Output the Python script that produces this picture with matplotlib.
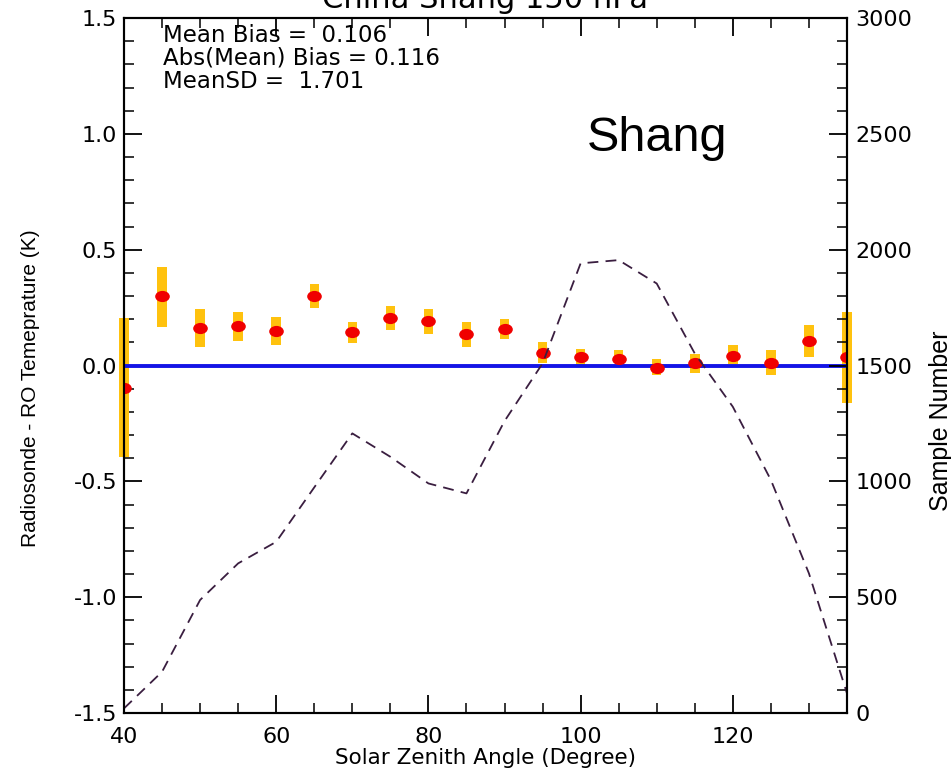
import numpy as np
import matplotlib
matplotlib.use("Agg")
import matplotlib.pyplot as plt
import matplotlib.path as mpath
from matplotlib.transforms import Affine2D

# Data
sza = [40, 45, 50, 55, 60, 65, 70, 75, 80, 85, 90, 95, 100, 105, 110, 115, 120, 125, 130, 135]
bias = [-0.095, 0.298, 0.161, 0.171, 0.150, 0.301, 0.144, 0.204, 0.190, 0.135,
        0.157, 0.056, 0.035, 0.030, -0.009, 0.009, 0.042, 0.013, 0.107, 0.038]
bar_top = [0.207, 0.426, 0.242, 0.233, 0.210, 0.351, 0.189, 0.256, 0.243, 0.189,
           0.200, 0.100, 0.070, 0.066, 0.027, 0.049, 0.088, 0.066, 0.176, 0.233]
bar_bot = [-0.397, 0.167, 0.081, 0.107, 0.089, 0.250, 0.099, 0.152, 0.135, 0.081,
           0.114, 0.013, 0.004, 0.010, -0.043, -0.034, 0.006, -0.042, 0.038, -0.160]
samples = [20, 178, 488, 646, 739, 974, 1207, 1106, 991, 948,
           1260, 1509, 1941, 1955, 1854, 1552, 1322, 1006, 603, 85]

stats_text = "Mean Bias =  0.106\nAbs(Mean) Bias = 0.116\nMeanSD =  1.701"

wide = ['DejaVu Sans']
plain = ['Liberation Sans', 'DejaVu Sans']
plt.rcParams['font.family'] = wide

fig = plt.figure(figsize=(9.51, 7.73), dpi=100)
ax = fig.add_axes([0.1304, 0.0776, 0.7602, 0.8991])
ax2 = ax.twinx()

# error bars as thick yellow blocks
ax.bar(sza, np.array(bar_top) - np.array(bar_bot), bottom=bar_bot, width=1.25,
       color='#FFC20E', zorder=2, clip_on=False)
ax.axhline(0, color='#1414E6', lw=2.8, zorder=3)
ell = mpath.Path.unit_circle().transformed(Affine2D().scale(1.35, 1.0))
ax.plot(sza, bias, ls='none', marker=ell, ms=9.5, color='#F00000', mec='#F00000', zorder=4)

ax2.plot(sza, samples, color='#3A1E40', lw=1.3, dashes=(6, 4))

ax.set_xlim(40, 135)
ax.set_ylim(-1.5, 1.5)
ax2.set_ylim(0, 3000)

ax.set_xticks([40, 60, 80, 100, 120])
ax.set_xticks(np.arange(40, 136, 5), minor=True)
ax.set_yticks(np.arange(-1.5, 1.51, 0.5))
ax.set_yticklabels([f"{v:.1f}" for v in np.arange(-1.5, 1.51, 0.5)])
ax.set_yticks(np.arange(-1.5, 1.51, 0.1), minor=True)
ax2.set_yticks(np.arange(0, 3001, 500))
ax2.set_yticks(np.arange(0, 3001, 100), minor=True)

ax.tick_params(axis='both', which='major', direction='in', length=13, width=1.3,
               labelsize=16, top=True)
ax.tick_params(axis='x', which='major', pad=10)
ax.tick_params(axis='y', which='major', pad=5)
ax.tick_params(axis='both', which='minor', direction='in', length=7, width=1.1, top=True)
ax.tick_params(axis='y', right=False, which='both')
ax2.tick_params(axis='y', which='major', direction='in', length=13, width=1.3, labelsize=16, pad=6)
ax2.tick_params(axis='y', which='minor', direction='in', length=7, width=1.1)
for a in (ax, ax2):
    for s in a.spines.values():
        s.set_linewidth(1.5)

ax.set_xlabel("Solar Zenith Angle (Degree)", fontsize=15.5, labelpad=1)
ax.set_ylabel("Radiosonde - RO Temeprature (K)", fontsize=15, family=plain)
ax.yaxis.set_label_coords(-0.116, 0.468)
ax2.set_ylabel("Sample Number", fontsize=18, family=plain)
ax2.yaxis.set_label_coords(1.113, 0.42)
fig.text(0.51, 1 - 8 / 773, "China Shang 150 hPa", fontsize=22, ha='center', va='baseline')

ax.text(0.054, 0.992, stats_text, transform=ax.transAxes, fontsize=16.5,
        va='top', ha='left', linespacing=1.02)
ax.text(0.738, 0.826, "Shang", transform=ax.transAxes, fontsize=35, family=plain,
        ha='center', va='center')

fig.savefig("out.png", dpi=100)
